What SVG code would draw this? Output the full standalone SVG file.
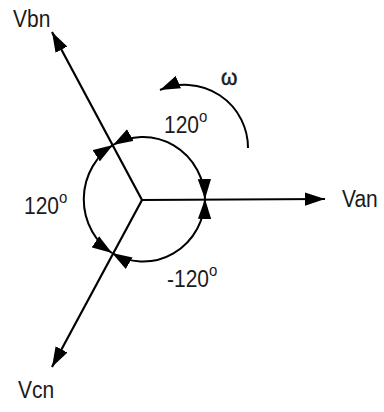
<svg xmlns="http://www.w3.org/2000/svg" width="384" height="412" viewBox="0 0 384 412">
<style>
.ln{stroke:#000;stroke-width:2.2;fill:none}
.arc{stroke:#000;stroke-width:2;fill:none}
.t{font-family:"Liberation Sans",Arial,sans-serif;fill:#1a1a1a;font-size:21px}
.sup{font-size:15px}
</style>
<defs>
<marker id="ah" markerUnits="userSpaceOnUse" markerWidth="20" markerHeight="14" viewBox="0 0 18 12" refX="18" refY="6" orient="auto-start-reverse">
<path d="M0,0 L18,6 L0,12 Z" fill="#000"/>
</marker>
</defs>
<rect width="384" height="412" fill="#fff"/>
<g id="connectors">
<line class="ln" x1="142" y1="200" x2="325" y2="199" marker-end="url(#ah)"/>
<line class="ln" x1="142" y1="200" x2="52" y2="32" marker-end="url(#ah)"/>
<line class="ln" x1="142" y1="200" x2="52" y2="367" marker-end="url(#ah)"/>
<path class="arc" d="M205,199 A62,64 0 0 0 113,145" marker-start="url(#ah)" marker-end="url(#ah)"/>
<path class="arc" d="M113,145 A62,64 0 0 0 112,253" marker-start="url(#ah)" marker-end="url(#ah)"/>
<path class="arc" d="M112,253 A62,64 0 0 0 205,199" marker-start="url(#ah)" marker-end="url(#ah)"/>
<path class="arc" d="M248,148 A63,63 0 0 0 160,90" marker-end="url(#ah)"/>
</g>
<g id="Van"><text class="t" transform="translate(342,207) scale(1,1.1)" font-size="22">Van</text></g>
<g id="Vbn"><text class="t" transform="translate(13,27) scale(1,1.1)" font-size="22">Vbn</text></g>
<g id="Vcn"><text class="t" transform="translate(18,398) scale(1,1.1)" font-size="22">Vcn</text></g>
<g id="omega"><text class="t" transform="translate(221,85) scale(1,1.05)" font-size="25" stroke="#1a1a1a" stroke-width="0.5">ω</text></g>
<g id="angle-top"><text class="t" transform="translate(164,133) scale(1,1.15)">120<tspan class="sup" dy="-10">o</tspan></text></g>
<g id="angle-left"><text class="t" transform="translate(24,214) scale(1,1.15)">120<tspan class="sup" dy="-10">o</tspan></text></g>
<g id="angle-bottom"><text class="t" transform="translate(167,287) scale(1,1.15)">-120<tspan class="sup" dy="-10">o</tspan></text></g>
</svg>
